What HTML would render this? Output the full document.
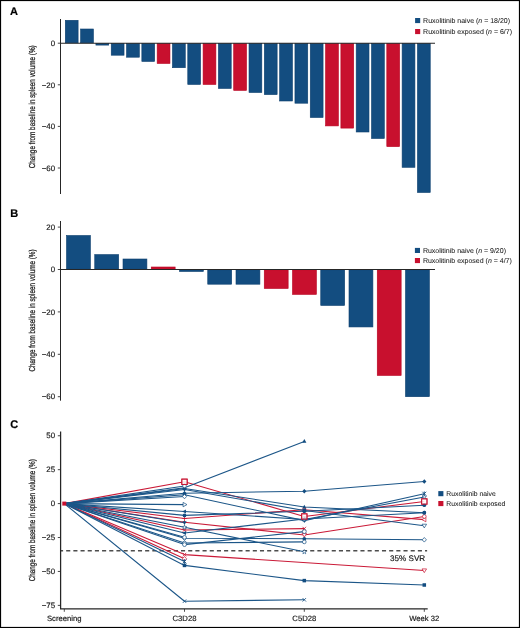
<!DOCTYPE html>
<html><head><meta charset="utf-8"><style>
html,body{margin:0;padding:0;background:#fff;}
svg{display:block;font-family:"Liberation Sans", sans-serif;will-change:transform;text-rendering:geometricPrecision;}
</style></head><body>
<svg width="520" height="628" viewBox="0 0 520 628">
<rect x="0" y="0" width="520" height="1.1" fill="#000"/><rect x="0" y="0" width="1.1" height="628" fill="#000"/><rect x="518.9" y="0" width="1.1" height="628" fill="#000"/><rect x="0" y="626.9" width="520" height="1.1" fill="#000"/>
<text x="10" y="14.7" font-size="11" text-anchor="start" font-weight="bold" fill="#000" stroke="#000" stroke-width="0.18" >A</text>
<text x="10.3" y="217.1" font-size="11" text-anchor="start" font-weight="bold" fill="#000" stroke="#000" stroke-width="0.18" >B</text>
<text x="10.2" y="427.8" font-size="11" text-anchor="start" font-weight="bold" fill="#000" stroke="#000" stroke-width="0.18" >C</text>
<line x1="60.5" y1="19" x2="60.5" y2="194" stroke="#262626" stroke-width="1" />
<line x1="57.8" y1="43.2" x2="60.5" y2="43.2" stroke="#333" stroke-width="0.9" />
<text x="55.1" y="45.900000000000006" font-size="7.9" text-anchor="end" font-weight="normal" fill="#1a1a1a" stroke="#1a1a1a" stroke-width="0.18" >0</text>
<line x1="57.8" y1="84.80000000000001" x2="60.5" y2="84.80000000000001" stroke="#333" stroke-width="0.9" />
<text x="55.1" y="87.50000000000001" font-size="7.9" text-anchor="end" font-weight="normal" fill="#1a1a1a" stroke="#1a1a1a" stroke-width="0.18" >&#8722;20</text>
<line x1="57.8" y1="126.4" x2="60.5" y2="126.4" stroke="#333" stroke-width="0.9" />
<text x="55.1" y="129.1" font-size="7.9" text-anchor="end" font-weight="normal" fill="#1a1a1a" stroke="#1a1a1a" stroke-width="0.18" >&#8722;40</text>
<line x1="57.8" y1="168.0" x2="60.5" y2="168.0" stroke="#333" stroke-width="0.9" />
<text x="55.1" y="170.7" font-size="7.9" text-anchor="end" font-weight="normal" fill="#1a1a1a" stroke="#1a1a1a" stroke-width="0.18" >&#8722;60</text>
<text transform="translate(35.2,106.8) rotate(-90)" x="0" y="0" font-size="8.6" text-anchor="middle" fill="#1a1a1a" stroke="#1a1a1a" stroke-width="0.25" textLength="123" lengthAdjust="spacingAndGlyphs">Change from baseline in spleen volume (%)</text>
<rect x="65.30" y="20.30" width="12.80" height="22.60" fill="#134d80" stroke="#0b3e6d" stroke-width="0.6"/>
<rect x="80.61" y="29.00" width="12.80" height="13.90" fill="#134d80" stroke="#0b3e6d" stroke-width="0.6"/>
<rect x="95.92" y="43.50" width="12.80" height="1.60" fill="#134d80" stroke="#0b3e6d" stroke-width="0.6"/>
<rect x="111.23" y="43.50" width="12.80" height="11.70" fill="#134d80" stroke="#0b3e6d" stroke-width="0.6"/>
<rect x="126.54" y="43.50" width="12.80" height="13.70" fill="#134d80" stroke="#0b3e6d" stroke-width="0.6"/>
<rect x="141.85" y="43.50" width="12.80" height="17.95" fill="#134d80" stroke="#0b3e6d" stroke-width="0.6"/>
<rect x="157.16" y="43.50" width="12.80" height="19.95" fill="#c8102e" stroke="#b8001f" stroke-width="0.6"/>
<rect x="172.47" y="43.50" width="12.80" height="24.20" fill="#134d80" stroke="#0b3e6d" stroke-width="0.6"/>
<rect x="187.78" y="43.50" width="12.80" height="40.95" fill="#134d80" stroke="#0b3e6d" stroke-width="0.6"/>
<rect x="203.09" y="43.50" width="12.80" height="40.95" fill="#c8102e" stroke="#b8001f" stroke-width="0.6"/>
<rect x="218.40" y="43.50" width="12.80" height="44.95" fill="#134d80" stroke="#0b3e6d" stroke-width="0.6"/>
<rect x="233.71" y="43.50" width="12.80" height="46.90" fill="#c8102e" stroke="#b8001f" stroke-width="0.6"/>
<rect x="249.02" y="43.50" width="12.80" height="49.00" fill="#134d80" stroke="#0b3e6d" stroke-width="0.6"/>
<rect x="264.33" y="43.50" width="12.80" height="51.10" fill="#134d80" stroke="#0b3e6d" stroke-width="0.6"/>
<rect x="279.64" y="43.50" width="12.80" height="57.50" fill="#134d80" stroke="#0b3e6d" stroke-width="0.6"/>
<rect x="294.95" y="43.50" width="12.80" height="59.70" fill="#134d80" stroke="#0b3e6d" stroke-width="0.6"/>
<rect x="310.26" y="43.50" width="12.80" height="74.00" fill="#134d80" stroke="#0b3e6d" stroke-width="0.6"/>
<rect x="325.57" y="43.50" width="12.80" height="82.40" fill="#c8102e" stroke="#b8001f" stroke-width="0.6"/>
<rect x="340.88" y="43.50" width="12.80" height="84.60" fill="#c8102e" stroke="#b8001f" stroke-width="0.6"/>
<rect x="356.19" y="43.50" width="12.80" height="88.50" fill="#134d80" stroke="#0b3e6d" stroke-width="0.6"/>
<rect x="371.50" y="43.50" width="12.80" height="95.00" fill="#134d80" stroke="#0b3e6d" stroke-width="0.6"/>
<rect x="386.81" y="43.50" width="12.80" height="103.10" fill="#c8102e" stroke="#b8001f" stroke-width="0.6"/>
<rect x="402.12" y="43.50" width="12.80" height="123.80" fill="#134d80" stroke="#0b3e6d" stroke-width="0.6"/>
<rect x="417.43" y="43.50" width="12.80" height="149.00" fill="#134d80" stroke="#0b3e6d" stroke-width="0.6"/>
<line x1="60" y1="43.2" x2="435" y2="43.2" stroke="#262626" stroke-width="1.1" />
<rect x="415.10" y="18.00" width="5.10" height="5.10" fill="#134d80"/>
<rect x="415.10" y="29.00" width="5.10" height="5.10" fill="#c8102e"/>
<text x="423.1" y="22.9" font-size="7" text-anchor="start" font-weight="normal" fill="#1a1a1a" stroke="#1a1a1a" stroke-width="0.06" >Ruxolitinib naive (<tspan font-style='italic'>n</tspan> = 18/20)</text>
<text x="423.1" y="33.9" font-size="7" text-anchor="start" font-weight="normal" fill="#1a1a1a" stroke="#1a1a1a" stroke-width="0.06" >Ruxolitinib exposed (<tspan font-style='italic'>n</tspan> = 6/7)</text>
<line x1="60.5" y1="221" x2="60.5" y2="400.7" stroke="#262626" stroke-width="1" />
<line x1="57.8" y1="227.1" x2="60.5" y2="227.1" stroke="#333" stroke-width="0.9" />
<text x="55.1" y="229.79999999999998" font-size="7.9" text-anchor="end" font-weight="normal" fill="#1a1a1a" stroke="#1a1a1a" stroke-width="0.18" >20</text>
<line x1="57.8" y1="269.5" x2="60.5" y2="269.5" stroke="#333" stroke-width="0.9" />
<text x="55.1" y="272.2" font-size="7.9" text-anchor="end" font-weight="normal" fill="#1a1a1a" stroke="#1a1a1a" stroke-width="0.18" >0</text>
<line x1="57.8" y1="311.9" x2="60.5" y2="311.9" stroke="#333" stroke-width="0.9" />
<text x="55.1" y="314.59999999999997" font-size="7.9" text-anchor="end" font-weight="normal" fill="#1a1a1a" stroke="#1a1a1a" stroke-width="0.18" >&#8722;20</text>
<line x1="57.8" y1="354.3" x2="60.5" y2="354.3" stroke="#333" stroke-width="0.9" />
<text x="55.1" y="357.0" font-size="7.9" text-anchor="end" font-weight="normal" fill="#1a1a1a" stroke="#1a1a1a" stroke-width="0.18" >&#8722;40</text>
<line x1="57.8" y1="396.7" x2="60.5" y2="396.7" stroke="#333" stroke-width="0.9" />
<text x="55.1" y="399.4" font-size="7.9" text-anchor="end" font-weight="normal" fill="#1a1a1a" stroke="#1a1a1a" stroke-width="0.18" >&#8722;60</text>
<text transform="translate(35.4,310.5) rotate(-90)" x="0" y="0" font-size="8.6" text-anchor="middle" fill="#1a1a1a" stroke="#1a1a1a" stroke-width="0.25" textLength="122" lengthAdjust="spacingAndGlyphs">Change from baseline in spleen volume (%)</text>
<rect x="66.50" y="235.50" width="23.90" height="33.70" fill="#134d80" stroke="#0b3e6d" stroke-width="0.6"/>
<rect x="94.75" y="254.60" width="23.90" height="14.60" fill="#134d80" stroke="#0b3e6d" stroke-width="0.6"/>
<rect x="123.00" y="259.00" width="23.90" height="10.20" fill="#134d80" stroke="#0b3e6d" stroke-width="0.6"/>
<rect x="151.25" y="267.00" width="23.90" height="2.20" fill="#c8102e" stroke="#b8001f" stroke-width="0.6"/>
<rect x="179.50" y="269.80" width="23.90" height="1.70" fill="#134d80" stroke="#0b3e6d" stroke-width="0.6"/>
<rect x="207.75" y="269.80" width="23.90" height="14.40" fill="#134d80" stroke="#0b3e6d" stroke-width="0.6"/>
<rect x="236.00" y="269.80" width="23.90" height="14.40" fill="#134d80" stroke="#0b3e6d" stroke-width="0.6"/>
<rect x="264.25" y="269.80" width="23.90" height="18.70" fill="#c8102e" stroke="#b8001f" stroke-width="0.6"/>
<rect x="292.50" y="269.80" width="23.90" height="24.60" fill="#c8102e" stroke="#b8001f" stroke-width="0.6"/>
<rect x="320.75" y="269.80" width="23.90" height="35.65" fill="#134d80" stroke="#0b3e6d" stroke-width="0.6"/>
<rect x="349.00" y="269.80" width="23.90" height="57.15" fill="#134d80" stroke="#0b3e6d" stroke-width="0.6"/>
<rect x="377.25" y="269.80" width="23.90" height="105.65" fill="#c8102e" stroke="#b8001f" stroke-width="0.6"/>
<rect x="405.50" y="269.80" width="23.90" height="126.90" fill="#134d80" stroke="#0b3e6d" stroke-width="0.6"/>
<line x1="60" y1="269.5" x2="435" y2="269.5" stroke="#262626" stroke-width="1.1" />
<rect x="414.90" y="247.90" width="5.10" height="5.10" fill="#134d80"/>
<rect x="414.90" y="258.00" width="5.10" height="5.10" fill="#c8102e"/>
<text x="422.9" y="252.8" font-size="7" text-anchor="start" font-weight="normal" fill="#1a1a1a" stroke="#1a1a1a" stroke-width="0.06" >Ruxolitinib naive (<tspan font-style='italic'>n</tspan> = 9/20)</text>
<text x="422.9" y="262.9" font-size="7" text-anchor="start" font-weight="normal" fill="#1a1a1a" stroke="#1a1a1a" stroke-width="0.06" >Ruxolitinib exposed (<tspan font-style='italic'>n</tspan> = 4/7)</text>
<text transform="translate(35.2,520.2) rotate(-90)" x="0" y="0" font-size="8.6" text-anchor="middle" fill="#1a1a1a" stroke="#1a1a1a" stroke-width="0.25" textLength="122" lengthAdjust="spacingAndGlyphs">Change from baseline in spleen volume (%)</text>
<line x1="57.8" y1="435.75" x2="60.5" y2="435.75" stroke="#333" stroke-width="0.9" />
<text x="55.1" y="438.45" font-size="7.9" text-anchor="end" font-weight="normal" fill="#1a1a1a" stroke="#1a1a1a" stroke-width="0.18" >50</text>
<line x1="57.8" y1="469.675" x2="60.5" y2="469.675" stroke="#333" stroke-width="0.9" />
<text x="55.1" y="472.375" font-size="7.9" text-anchor="end" font-weight="normal" fill="#1a1a1a" stroke="#1a1a1a" stroke-width="0.18" >25</text>
<line x1="57.8" y1="503.6" x2="60.5" y2="503.6" stroke="#333" stroke-width="0.9" />
<text x="55.1" y="506.3" font-size="7.9" text-anchor="end" font-weight="normal" fill="#1a1a1a" stroke="#1a1a1a" stroke-width="0.18" >0</text>
<line x1="57.8" y1="537.525" x2="60.5" y2="537.525" stroke="#333" stroke-width="0.9" />
<text x="55.1" y="540.225" font-size="7.9" text-anchor="end" font-weight="normal" fill="#1a1a1a" stroke="#1a1a1a" stroke-width="0.18" >&#8722;25</text>
<line x1="57.8" y1="571.45" x2="60.5" y2="571.45" stroke="#333" stroke-width="0.9" />
<text x="55.1" y="574.1500000000001" font-size="7.9" text-anchor="end" font-weight="normal" fill="#1a1a1a" stroke="#1a1a1a" stroke-width="0.18" >&#8722;50</text>
<line x1="57.8" y1="605.375" x2="60.5" y2="605.375" stroke="#333" stroke-width="0.9" />
<text x="55.1" y="608.075" font-size="7.9" text-anchor="end" font-weight="normal" fill="#1a1a1a" stroke="#1a1a1a" stroke-width="0.18" >&#8722;75</text>
<line x1="64.3" y1="609" x2="64.3" y2="611.8" stroke="#262626" stroke-width="0.8" />
<text x="64.3" y="621.2" font-size="7.7" text-anchor="middle" font-weight="normal" fill="#1a1a1a" stroke="#1a1a1a" stroke-width="0.18" >Screening</text>
<line x1="184.5" y1="609" x2="184.5" y2="611.8" stroke="#262626" stroke-width="0.8" />
<text x="184.5" y="621.2" font-size="7.7" text-anchor="middle" font-weight="normal" fill="#1a1a1a" stroke="#1a1a1a" stroke-width="0.18" >C3D28</text>
<line x1="304.3" y1="609" x2="304.3" y2="611.8" stroke="#262626" stroke-width="0.8" />
<text x="304.3" y="621.2" font-size="7.7" text-anchor="middle" font-weight="normal" fill="#1a1a1a" stroke="#1a1a1a" stroke-width="0.18" >C5D28</text>
<line x1="424.3" y1="609" x2="424.3" y2="611.8" stroke="#262626" stroke-width="0.8" />
<text x="424.3" y="621.2" font-size="7.7" text-anchor="middle" font-weight="normal" fill="#1a1a1a" stroke="#1a1a1a" stroke-width="0.18" >Week 32</text>
<line x1="60.2" y1="550.8" x2="427.1" y2="550.8" stroke="#4d4d4d" stroke-width="1.4" stroke-dasharray="4.1 3.077" stroke-dashoffset="1.2"/>
<text x="425.2" y="561.2" font-size="8.1" text-anchor="end" font-weight="normal" fill="#1a1a1a" stroke="#1a1a1a" stroke-width="0.18" >35% SVR</text>
<path d="M64.30,503.60 L184.50,481.80 L304.30,516.50 L424.30,501.50" fill="none" stroke="#ca1a37" stroke-width="1.1" stroke-linejoin="round"/>
<path d="M64.30,503.60 L184.50,554.60 L424.30,570.50" fill="none" stroke="#ca1a37" stroke-width="1.1" stroke-linejoin="round"/>
<path d="M64.30,503.60 L184.50,518.50 L304.30,509.70 L424.30,519.60" fill="none" stroke="#ca1a37" stroke-width="1.1" stroke-linejoin="round"/>
<path d="M64.30,503.60 L184.50,522.30 L304.30,535.00 L424.30,516.50" fill="none" stroke="#ca1a37" stroke-width="1.1" stroke-linejoin="round"/>
<path d="M64.30,503.60 L184.50,530.00 L304.30,528.60" fill="none" stroke="#ca1a37" stroke-width="1.1" stroke-linejoin="round"/>
<path d="M64.30,503.60 L184.50,558.80" fill="none" stroke="#ca1a37" stroke-width="1.1" stroke-linejoin="round"/>
<path d="M64.30,503.60 L184.50,487.80 L304.30,441.40" fill="none" stroke="#1c5688" stroke-width="1.1" stroke-linejoin="round"/>
<path d="M64.30,503.60 L184.50,493.20 L304.30,491.20 L424.30,481.50" fill="none" stroke="#1c5688" stroke-width="1.1" stroke-linejoin="round"/>
<path d="M64.30,503.60 L184.50,488.50 L304.30,507.00 L424.30,512.70" fill="none" stroke="#1c5688" stroke-width="1.1" stroke-linejoin="round"/>
<path d="M64.30,503.60 L184.50,489.50 L304.30,510.50 L424.30,525.80" fill="none" stroke="#1c5688" stroke-width="1.1" stroke-linejoin="round"/>
<path d="M64.30,503.60 L184.50,494.80 L304.30,520.60 L424.30,493.70" fill="none" stroke="#1c5688" stroke-width="1.1" stroke-linejoin="round"/>
<path d="M64.30,503.60 L184.50,511.50 L304.30,519.50 L424.30,497.00" fill="none" stroke="#1c5688" stroke-width="1.1" stroke-linejoin="round"/>
<path d="M64.30,503.60 L184.50,515.40 L304.30,511.30 L424.30,505.20" fill="none" stroke="#1c5688" stroke-width="1.1" stroke-linejoin="round"/>
<path d="M64.30,503.60 L184.50,533.00 L304.30,519.00 L424.30,512.70" fill="none" stroke="#1c5688" stroke-width="1.1" stroke-linejoin="round"/>
<path d="M64.30,503.60 L184.50,504.60" fill="none" stroke="#1c5688" stroke-width="1.1" stroke-linejoin="round"/>
<path d="M64.30,503.60 L184.50,527.30 L304.30,551.80" fill="none" stroke="#1c5688" stroke-width="1.1" stroke-linejoin="round"/>
<path d="M64.30,503.60 L184.50,538.20 L304.30,538.80 L424.30,539.80" fill="none" stroke="#1c5688" stroke-width="1.1" stroke-linejoin="round"/>
<path d="M64.30,503.60 L184.50,543.00 L304.30,541.90" fill="none" stroke="#1c5688" stroke-width="1.1" stroke-linejoin="round"/>
<path d="M64.30,503.60 L184.50,544.60 L304.30,531.60" fill="none" stroke="#1c5688" stroke-width="1.1" stroke-linejoin="round"/>
<path d="M64.30,503.60 L184.50,565.40 L304.30,580.60 L424.30,585.00" fill="none" stroke="#1c5688" stroke-width="1.1" stroke-linejoin="round"/>
<path d="M64.30,503.60 L184.50,601.20 L304.30,599.80" fill="none" stroke="#1c5688" stroke-width="1.1" stroke-linejoin="round"/>
<path d="M64.30,503.60 L184.50,561.50" fill="none" stroke="#1c5688" stroke-width="1.1" stroke-linejoin="round"/>
<path d="M64.30,503.60 L184.50,522.75" fill="none" stroke="#1c5688" stroke-width="1.1" stroke-linejoin="round"/>
<path d="M64.30,503.60 L184.50,486.00" fill="none" stroke="#1c5688" stroke-width="1.1" stroke-linejoin="round"/>
<path d="M64.30,503.60 L184.50,496.50" fill="none" stroke="#1c5688" stroke-width="1.1" stroke-linejoin="round"/>
<path d="M64.30,503.60 L184.50,537.30" fill="none" stroke="#1c5688" stroke-width="1.1" stroke-linejoin="round"/>
<g transform="translate(184.50,481.80) scale(1.1) translate(-184.50,-481.80)">
<rect x="182.10" y="479.40" width="4.8" height="4.8" fill="#fff" fill-opacity="0.6" stroke="#c8102e" stroke-width="0.9"/>
</g>
<g transform="translate(304.30,516.50) scale(1.1) translate(-304.30,-516.50)">
<rect x="301.90" y="514.10" width="4.8" height="4.8" fill="#fff" fill-opacity="0.6" stroke="#c8102e" stroke-width="0.9"/>
</g>
<g transform="translate(424.30,501.50) scale(1.1) translate(-424.30,-501.50)">
<rect x="421.90" y="499.10" width="4.8" height="4.8" fill="#fff" fill-opacity="0.6" stroke="#c8102e" stroke-width="0.9"/>
</g>
<g transform="translate(184.50,554.60) scale(0.88) translate(-184.50,-554.60)">
<path d="M182.5,552.6 L186.5,556.6 M182.5,556.6 L186.5,552.6" stroke="#c8102e" stroke-width="0.9"/>
</g>
<g transform="translate(424.30,570.50) scale(0.88) translate(-424.30,-570.50)">
<path d="M424.3,572.9 L426.90000000000003,568.7 L421.7,568.7 Z" fill="#fff" stroke="#c8102e" stroke-width="0.8"/>
</g>
<g transform="translate(184.50,518.50) scale(0.88) translate(-184.50,-518.50)">
<path d="M184.5,516.1 L184.5,520.9 M182.1,518.5 L186.9,518.5" stroke="#c8102e" stroke-width="0.9"/>
</g>
<g transform="translate(304.30,509.70) scale(0.88) translate(-304.30,-509.70)">
<path d="M302.1,507.5 L306.5,511.9 M302.1,511.9 L306.5,507.5 M304.3,507.09999999999997 L304.3,512.3" stroke="#c8102e" stroke-width="1"/>
</g>
<g transform="translate(424.30,519.60) scale(0.88) translate(-424.30,-519.60)">
<path d="M421.7,519.6 L426.1,517.1 L426.1,522.1 Z" fill="#fff" stroke="#c8102e" stroke-width="0.8"/>
</g>
<g transform="translate(184.50,522.30) scale(0.88) translate(-184.50,-522.30)">
<path d="M184.5,519.9 L184.5,524.6999999999999 M182.1,522.3 L186.9,522.3" stroke="#c8102e" stroke-width="0.9"/>
</g>
<g transform="translate(304.30,535.00) scale(0.88) translate(-304.30,-535.00)">
<path d="M304.3,537.4 L306.90000000000003,533.2 L301.7,533.2 Z" fill="#fff" stroke="#c8102e" stroke-width="0.8"/>
</g>
<g transform="translate(424.30,516.50) scale(0.88) translate(-424.30,-516.50)">
<circle cx="424.3" cy="516.5" r="2.1" fill="#fff" stroke="#c8102e" stroke-width="0.8"/>
</g>
<g transform="translate(184.50,530.00) scale(0.88) translate(-184.50,-530.00)">
<path d="M182.5,528.0 L186.5,532.0 M182.5,532.0 L186.5,528.0" stroke="#c8102e" stroke-width="0.9"/>
</g>
<g transform="translate(304.30,528.60) scale(0.88) translate(-304.30,-528.60)">
<path d="M302.3,526.6 L306.3,530.6 M302.3,530.6 L306.3,526.6" stroke="#c8102e" stroke-width="0.9"/>
</g>
<g transform="translate(184.50,558.80) scale(0.88) translate(-184.50,-558.80)">
<path d="M184.5,556.1999999999999 L186.9,558.8 L184.5,561.4 L182.1,558.8 Z" fill="#fff" stroke="#c8102e" stroke-width="0.8"/>
</g>
<g transform="translate(184.50,487.80) scale(0.88) translate(-184.50,-487.80)">
<path d="M184.5,485.2 L186.9,489.40000000000003 L182.1,489.40000000000003 Z" fill="#134d80"/>
</g>
<g transform="translate(304.30,441.40) scale(0.88) translate(-304.30,-441.40)">
<path d="M304.3,438.79999999999995 L306.7,443.0 L301.90000000000003,443.0 Z" fill="#134d80"/>
</g>
<g transform="translate(184.50,493.20) scale(0.88) translate(-184.50,-493.20)">
<path d="M184.5,490.59999999999997 L186.9,493.2 L184.5,495.8 L182.1,493.2 Z" fill="#134d80"/>
</g>
<g transform="translate(304.30,491.20) scale(0.88) translate(-304.30,-491.20)">
<path d="M304.3,488.59999999999997 L306.7,491.2 L304.3,493.8 L301.90000000000003,491.2 Z" fill="#134d80"/>
</g>
<g transform="translate(424.30,481.50) scale(0.88) translate(-424.30,-481.50)">
<path d="M424.3,478.9 L426.7,481.5 L424.3,484.1 L421.90000000000003,481.5 Z" fill="#134d80"/>
</g>
<g transform="translate(184.50,488.50) scale(0.88) translate(-184.50,-488.50)">
<path d="M184.5,485.9 L186.9,490.1 L182.1,490.1 Z" fill="#134d80"/>
</g>
<g transform="translate(304.30,507.00) scale(0.88) translate(-304.30,-507.00)">
<path d="M304.3,504.4 L306.7,508.6 L301.90000000000003,508.6 Z" fill="#134d80"/>
</g>
<g transform="translate(424.30,512.70) scale(0.88) translate(-424.30,-512.70)">
<circle cx="424.3" cy="512.7" r="2.1" fill="#134d80"/>
</g>
<g transform="translate(184.50,489.50) scale(0.88) translate(-184.50,-489.50)">
<path d="M184.5,492.1 L186.9,487.9 L182.1,487.9 Z" fill="#134d80"/>
</g>
<g transform="translate(304.30,510.50) scale(0.88) translate(-304.30,-510.50)">
<path d="M304.3,513.1 L306.7,508.9 L301.90000000000003,508.9 Z" fill="#134d80"/>
</g>
<g transform="translate(424.30,525.80) scale(0.88) translate(-424.30,-525.80)">
<path d="M424.3,528.1999999999999 L426.90000000000003,524.0 L421.7,524.0 Z" fill="#fff" stroke="#134d80" stroke-width="0.8"/>
</g>
<g transform="translate(184.50,494.80) scale(0.88) translate(-184.50,-494.80)">
<circle cx="184.5" cy="494.8" r="2.1" fill="#134d80"/>
</g>
<g transform="translate(304.30,520.60) scale(0.88) translate(-304.30,-520.60)">
<path d="M304.3,523.2 L306.7,519.0 L301.90000000000003,519.0 Z" fill="#134d80"/>
</g>
<g transform="translate(424.30,493.70) scale(0.88) translate(-424.30,-493.70)">
<path d="M422.1,491.5 L426.5,495.9 M422.1,495.9 L426.5,491.5 M424.3,491.09999999999997 L424.3,496.3" stroke="#134d80" stroke-width="1"/>
</g>
<g transform="translate(184.50,511.50) scale(0.88) translate(-184.50,-511.50)">
<path d="M181.9,511.5 L186.1,509.1 L186.1,513.9 Z" fill="#134d80"/>
</g>
<g transform="translate(304.30,519.50) scale(0.88) translate(-304.30,-519.50)">
<path d="M304.3,516.9 L305.0,518.7 L306.8,518.7 L305.40000000000003,519.9 L305.90000000000003,521.8 L304.3,520.7 L302.7,521.8 L303.2,519.9 L301.8,518.7 L303.6,518.7 Z" fill="#fff" stroke="#134d80" stroke-width="0.7"/>
</g>
<g transform="translate(424.30,497.00) scale(0.88) translate(-424.30,-497.00)">
<path d="M424.3,494.4 L425.0,496.2 L426.8,496.2 L425.40000000000003,497.4 L425.90000000000003,499.3 L424.3,498.2 L422.7,499.3 L423.2,497.4 L421.8,496.2 L423.6,496.2 Z" fill="#fff" stroke="#134d80" stroke-width="0.7"/>
</g>
<g transform="translate(184.50,515.40) scale(0.88) translate(-184.50,-515.40)">
<circle cx="184.5" cy="515.4" r="2.1" fill="#134d80"/>
</g>
<g transform="translate(304.30,511.30) scale(0.88) translate(-304.30,-511.30)">
<circle cx="304.3" cy="511.3" r="2.1" fill="#134d80"/>
</g>
<g transform="translate(424.30,505.20) scale(0.88) translate(-424.30,-505.20)">
<circle cx="424.3" cy="505.2" r="2.1" fill="#134d80"/>
</g>
<g transform="translate(184.50,533.00) scale(0.88) translate(-184.50,-533.00)">
<path d="M181.9,533.0 L186.1,530.6 L186.1,535.4 Z" fill="#134d80"/>
</g>
<g transform="translate(304.30,519.00) scale(0.88) translate(-304.30,-519.00)">
<path d="M302.3,517.0 L306.3,521.0 M302.3,521.0 L306.3,517.0" stroke="#134d80" stroke-width="0.9"/>
</g>
<g transform="translate(424.30,512.70) scale(0.88) translate(-424.30,-512.70)">
<circle cx="424.3" cy="512.7" r="2.1" fill="#134d80"/>
</g>
<g transform="translate(184.50,504.60) scale(0.88) translate(-184.50,-504.60)">
<path d="M187.3,504.6 L182.9,502.1 L182.9,507.1 Z" fill="#fff" stroke="#134d80" stroke-width="0.8"/>
</g>
<g transform="translate(184.50,527.30) scale(0.88) translate(-184.50,-527.30)">
<path d="M184.5,524.6999999999999 L185.2,526.5 L187.0,526.5 L185.6,527.6999999999999 L186.1,529.5999999999999 L184.5,528.5 L182.9,529.5999999999999 L183.4,527.6999999999999 L182.0,526.5 L183.8,526.5 Z" fill="#fff" stroke="#134d80" stroke-width="0.7"/>
</g>
<g transform="translate(304.30,551.80) scale(0.88) translate(-304.30,-551.80)">
<path d="M304.3,549.1999999999999 L305.0,551.0 L306.8,551.0 L305.40000000000003,552.1999999999999 L305.90000000000003,554.0999999999999 L304.3,553.0 L302.7,554.0999999999999 L303.2,552.1999999999999 L301.8,551.0 L303.6,551.0 Z" fill="#fff" stroke="#134d80" stroke-width="0.7"/>
</g>
<g transform="translate(184.50,538.20) scale(0.88) translate(-184.50,-538.20)">
<path d="M184.5,535.6 L186.9,538.2 L184.5,540.8000000000001 L182.1,538.2 Z" fill="#fff" stroke="#134d80" stroke-width="0.8"/>
</g>
<g transform="translate(304.30,538.80) scale(0.88) translate(-304.30,-538.80)">
<circle cx="304.3" cy="538.8" r="2.1" fill="#134d80"/>
</g>
<g transform="translate(424.30,539.80) scale(0.88) translate(-424.30,-539.80)">
<path d="M424.3,537.1999999999999 L426.7,539.8 L424.3,542.4 L421.90000000000003,539.8 Z" fill="#fff" stroke="#134d80" stroke-width="0.8"/>
</g>
<g transform="translate(184.50,543.00) scale(0.88) translate(-184.50,-543.00)">
<circle cx="184.5" cy="543.0" r="2.1" fill="#fff" stroke="#134d80" stroke-width="0.8"/>
</g>
<g transform="translate(304.30,541.90) scale(0.88) translate(-304.30,-541.90)">
<circle cx="304.3" cy="541.9" r="2.1" fill="#fff" stroke="#134d80" stroke-width="0.8"/>
</g>
<g transform="translate(184.50,544.60) scale(0.88) translate(-184.50,-544.60)">
<circle cx="184.5" cy="544.6" r="2.2" fill="#fff" stroke="#134d80" stroke-width="0.8"/>
</g>
<g transform="translate(304.30,531.60) scale(0.88) translate(-304.30,-531.60)">
<circle cx="304.3" cy="531.6" r="2.2" fill="#fff" stroke="#134d80" stroke-width="0.8"/>
</g>
<g transform="translate(184.50,565.40) scale(0.88) translate(-184.50,-565.40)">
<rect x="182.50" y="563.40" width="4" height="4" fill="#134d80"/>
</g>
<g transform="translate(304.30,580.60) scale(0.88) translate(-304.30,-580.60)">
<rect x="302.30" y="578.60" width="4" height="4" fill="#134d80"/>
</g>
<g transform="translate(424.30,585.00) scale(0.88) translate(-424.30,-585.00)">
<rect x="422.30" y="583.00" width="4" height="4" fill="#134d80"/>
</g>
<g transform="translate(184.50,601.20) scale(0.88) translate(-184.50,-601.20)">
<path d="M182.5,599.2 L186.5,603.2 M182.5,603.2 L186.5,599.2" stroke="#134d80" stroke-width="0.9"/>
</g>
<g transform="translate(304.30,599.80) scale(0.88) translate(-304.30,-599.80)">
<path d="M302.3,597.8 L306.3,601.8 M302.3,601.8 L306.3,597.8" stroke="#134d80" stroke-width="0.9"/>
</g>
<g transform="translate(184.50,561.50) scale(0.88) translate(-184.50,-561.50)">
<path d="M182.3,559.3 L186.7,563.7 M182.3,563.7 L186.7,559.3 M184.5,558.9 L184.5,564.1" stroke="#134d80" stroke-width="1"/>
</g>
<g transform="translate(184.50,522.75) scale(0.88) translate(-184.50,-522.75)">
<path d="M184.5,525.35 L186.9,521.15 L182.1,521.15 Z" fill="#134d80"/>
</g>
<g transform="translate(184.50,486.00) scale(0.88) translate(-184.50,-486.00)">
<circle cx="184.5" cy="486.0" r="2.1" fill="#fff" stroke="#134d80" stroke-width="0.8"/>
</g>
<g transform="translate(184.50,496.50) scale(0.88) translate(-184.50,-496.50)">
<path d="M184.5,493.9 L186.9,496.5 L184.5,499.1 L182.1,496.5 Z" fill="#fff" stroke="#134d80" stroke-width="0.8"/>
</g>
<g transform="translate(184.50,537.30) scale(0.88) translate(-184.50,-537.30)">
<circle cx="184.5" cy="537.3" r="2.1" fill="#fff" stroke="#134d80" stroke-width="0.8"/>
</g>
<g transform="translate(184.50,481.80) scale(1.1) translate(-184.50,-481.80)">
<rect x="182.10" y="479.40" width="4.8" height="4.8" fill="#fff" fill-opacity="0.6" stroke="#c8102e" stroke-width="0.9"/>
</g>
<g transform="translate(304.30,516.50) scale(1.1) translate(-304.30,-516.50)">
<rect x="301.90" y="514.10" width="4.8" height="4.8" fill="#fff" fill-opacity="0.6" stroke="#c8102e" stroke-width="0.9"/>
</g>
<g transform="translate(424.30,501.50) scale(1.1) translate(-424.30,-501.50)">
<rect x="421.90" y="499.10" width="4.8" height="4.8" fill="#fff" fill-opacity="0.6" stroke="#c8102e" stroke-width="0.9"/>
</g>
<rect x="62.3" y="501.6" width="4" height="4" fill="#c8102e"/>
<path d="M60.6,431.5 L60.6,608.9 L427.7,608.9" fill="none" stroke="#262626" stroke-width="1.25"/>
<rect x="438.30" y="491.10" width="5.10" height="5.10" fill="#134d80"/>
<rect x="438.30" y="501.00" width="5.10" height="5.10" fill="#c8102e"/>
<text x="446.3" y="496.0" font-size="6.8" text-anchor="start" font-weight="normal" fill="#1a1a1a" stroke="#1a1a1a" stroke-width="0.06" >Ruxolitinib naive</text>
<text x="446.3" y="505.9" font-size="6.8" text-anchor="start" font-weight="normal" fill="#1a1a1a" stroke="#1a1a1a" stroke-width="0.06" >Ruxolitinib exposed</text>
</svg>
</body></html>
